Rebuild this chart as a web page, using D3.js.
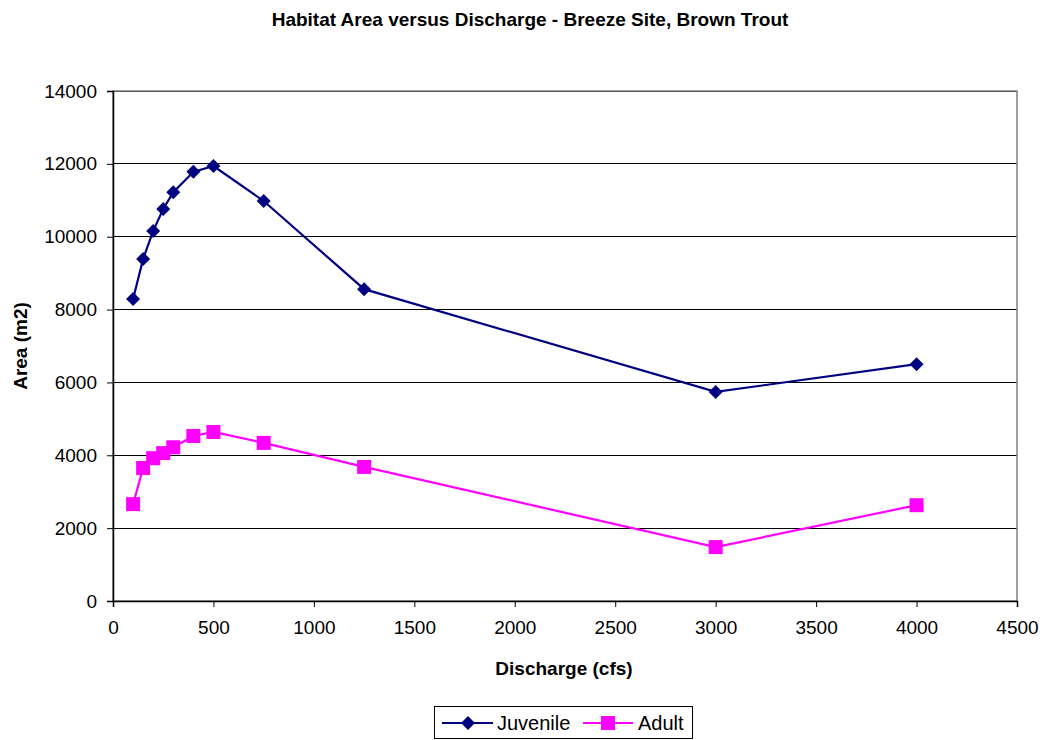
<!DOCTYPE html>
<html>
<head>
<meta charset="utf-8">
<script src="https://cdn.jsdelivr.net/npm/d3@7"></script>
<style>
  body { margin: 0; background: #fff; }
  text { font-family: "Liberation Sans", Arial, sans-serif; }
</style>
</head>
<body>
<script>
var svg_width  = 1044;
var svg_height = 740;

var discharge = [100, 150, 200, 250, 300, 400, 500, 750, 1250, 3000, 4000];
var juvenile  = [8290, 9390, 10160, 10760, 11220, 11780, 11940, 10980, 8560, 5740, 6500];
var adult     = [2660, 3650, 3920, 4060, 4220, 4530, 4640, 4340, 3680, 1480, 2630];
var xTicks = [0, 500, 1000, 1500, 2000, 2500, 3000, 3500, 4000, 4500];
var yTicks = [0, 2000, 4000, 6000, 8000, 10000, 12000, 14000];

var svg = d3.select('body').append('svg')
            .attr('width', svg_width)
            .attr('height', svg_height);

var plotL = 113, plotR = 1017, plotT = 91, plotB = 601;

var x = d3.scaleLinear().domain([0, 4500]).range([plotL, plotR]);
var y = d3.scaleLinear().domain([0, 14000]).range([plotB, plotT]);

// title
svg.append("text")
   .attr("x", 530).attr("y", 26)
   .attr("text-anchor", "middle")
   .style("font-size", "19px").style("font-weight", "bold")
   .text("Habitat Area versus Discharge - Breeze Site, Brown Trout");

// gridlines
svg.append("g").selectAll("line")
   .data(yTicks.filter(d => d > 0))
   .enter().append("line")
   .attr("x1", plotL).attr("x2", plotR)
   .attr("y1", d => y(d)).attr("y2", d => y(d))
   .attr("stroke", "#000").attr("stroke-width", 1)
   .attr("shape-rendering", "crispEdges");

// plot border
svg.append("rect")
   .attr("x", plotL).attr("y", plotT)
   .attr("width", plotR - plotL).attr("height", plotB - plotT)
   .attr("fill", "none").attr("stroke", "#808080").attr("stroke-width", 1.5);

var yAxis = svg.append("g")
   .attr("transform", "translate(" + plotL + ",0)")
   .call(d3.axisLeft(y).tickValues(yTicks).tickSize(6).tickPadding(10).tickFormat(d3.format("d")));

var xAxis = svg.append("g")
   .attr("transform", "translate(0," + plotB + ")")
   .call(d3.axisBottom(x).tickValues(xTicks).tickSize(6).tickPadding(14).tickFormat(d3.format("d")));

[yAxis, xAxis].forEach(function(a) {
  a.select(".domain").attr("stroke", "#000").attr("stroke-width", 1.5);
  a.selectAll(".tick line").attr("stroke", "#000");
  a.selectAll(".tick text").style("font-size", "19px").attr("fill", "#000")
   .style("font-family", "'Liberation Sans', Arial, sans-serif");
});

// axis titles
svg.append("text")
   .attr("x", 564).attr("y", 675)
   .attr("text-anchor", "middle")
   .style("font-size", "19px").style("font-weight", "bold")
   .text("Discharge (cfs)");

svg.append("text")
   .attr("transform", "translate(27," + ((plotT + plotB) / 2) + ") rotate(-90)")
   .attr("text-anchor", "middle")
   .style("font-size", "19px").style("font-weight", "bold")
   .text("Area (m2)");

var line = d3.line().x(d => x(d[0])).y(d => y(d[1]));

var juvData = discharge.map((d, i) => [d, juvenile[i]]);
var adData  = discharge.map((d, i) => [d, adult[i]]);

var navy = "#000080", magenta = "#ff00ff";

svg.append("path").datum(juvData)
   .attr("d", line).attr("fill", "none")
   .attr("stroke", navy).attr("stroke-width", 2.2);

svg.append("path").datum(adData)
   .attr("d", line).attr("fill", "none")
   .attr("stroke", magenta).attr("stroke-width", 2.2);

var diamond = "M0,-7L7,0L0,7L-7,0Z";

svg.append("g").selectAll("path")
   .data(juvData)
   .enter().append("path")
   .attr("d", diamond)
   .attr("transform", d => "translate(" + x(d[0]) + "," + y(d[1]) + ")")
   .attr("fill", navy);

svg.append("g").selectAll("rect")
   .data(adData)
   .enter().append("rect")
   .attr("x", d => x(d[0]) - 7).attr("y", d => y(d[1]) - 7)
   .attr("width", 14).attr("height", 14)
   .attr("fill", magenta);

// legend
var lg = svg.append("g");
lg.append("rect")
  .attr("x", 434.5).attr("y", 706.5).attr("width", 258).attr("height", 32)
  .attr("fill", "#fff").attr("stroke", "#000").attr("stroke-width", 1);

lg.append("line").attr("x1", 442).attr("x2", 493).attr("y1", 723).attr("y2", 723)
  .attr("stroke", navy).attr("stroke-width", 2.2);
lg.append("path").attr("d", diamond).attr("transform", "translate(468,723)").attr("fill", navy);
lg.append("text").attr("x", 497).attr("y", 730).style("font-size", "20px").text("Juvenile");

lg.append("line").attr("x1", 583).attr("x2", 633).attr("y1", 723).attr("y2", 723)
  .attr("stroke", magenta).attr("stroke-width", 2.2);
lg.append("rect").attr("x", 601).attr("y", 716).attr("width", 14).attr("height", 14).attr("fill", magenta);
lg.append("text").attr("x", 638).attr("y", 730).style("font-size", "20px").text("Adult");
</script>
</body>
</html>
